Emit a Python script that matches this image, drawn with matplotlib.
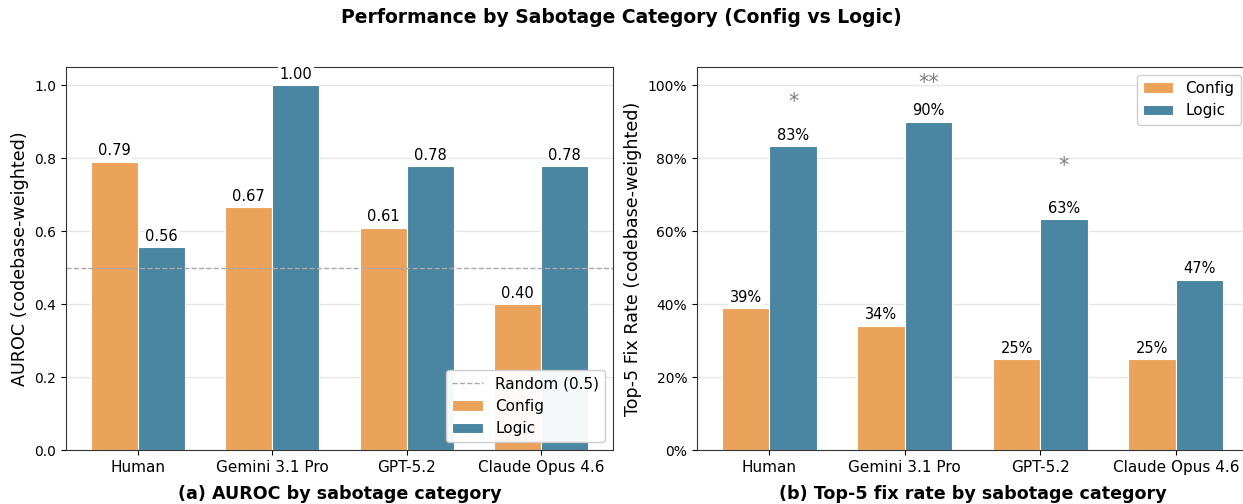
import numpy as np
import matplotlib.pyplot as plt

models = ['Human', 'Gemini 3.1 Pro', 'GPT-5.2', 'Claude Opus 4.6']
auroc_config = [0.79, 0.665, 0.61, 0.40]
auroc_logic = [0.556, 1.00, 0.778, 0.778]
fix_config = [38.9, 34.0, 24.9, 24.9]
fix_logic = [83.3, 90.0, 63.3, 46.7]
sig_marks = ['*', '**', '*', '']
sig_y = [95.5, 100.5, 78.0, 0]

c_config = '#EBA25A'
c_logic = '#4A85A2'
w = 0.35

fig = plt.figure(figsize=(12.43, 5.04), dpi=100)
ax1 = fig.add_axes([0.0531, 0.107, 0.440, 0.760])
ax2 = fig.add_axes([0.5607, 0.107, 0.4435, 0.760])

x = np.arange(len(models))
lbl_box = dict(facecolor='white', edgecolor='none', pad=1.0)

for ax in (ax1, ax2):
    ax.set_axisbelow(True)
    ax.yaxis.grid(True, color='#e6e6e6', linewidth=1)
    for s in ax.spines.values():
        s.set_color('#333333')
    ax.set_xticks(x)
    ax.set_xticklabels(models, fontsize=11)
    ax.tick_params(axis='y', labelsize=10)

# (a) AUROC
ax1.axhline(0.5, color='#aaaaaa', linestyle='--', linewidth=1, label='Random (0.5)')
b1 = ax1.bar(x - w/2, auroc_config, w, color=c_config, edgecolor='white', linewidth=0.8, label='Config')
b2 = ax1.bar(x + w/2, auroc_logic, w, color=c_logic, edgecolor='white', linewidth=0.8, label='Logic')
for bars in (b1, b2):
    for b in bars:
        h = b.get_height()
        ax1.text(b.get_x() + b.get_width()/2, h + 0.01, f'{h:.2f}', ha='center', va='bottom',
                 fontsize=10.5, bbox=lbl_box, zorder=5)
ax1.set_ylim(0, 1.05)
ax1.set_ylabel('AUROC (codebase-weighted)', fontsize=12.6)
ax1.set_xlabel('(a) AUROC by sabotage category', fontsize=12.6, fontweight='bold', labelpad=7.5)
ax1.legend(loc='lower right', fontsize=11, framealpha=0.95)

# (b) Top-5 fix rate
b3 = ax2.bar(x - w/2, fix_config, w, color=c_config, edgecolor='white', linewidth=0.8, label='Config')
b4 = ax2.bar(x + w/2, fix_logic, w, color=c_logic, edgecolor='white', linewidth=0.8, label='Logic')
for bars in (b3, b4):
    for b in bars:
        h = b.get_height()
        ax2.text(b.get_x() + b.get_width()/2, h + 1.0, f'{h:.0f}%', ha='center', va='bottom',
                 fontsize=10.5, bbox=lbl_box, zorder=5)
for i, m in enumerate(sig_marks):
    if m:
        ax2.text(x[i] + w/2, sig_y[i], m, ha='center', va='center', fontsize=15, color='#808080')
ax2.set_ylim(0, 105)
ax2.set_yticks([0, 20, 40, 60, 80, 100])
ax2.set_yticklabels([f'{v}%' for v in [0, 20, 40, 60, 80, 100]])
ax2.set_ylabel('Top-5 Fix Rate (codebase-weighted)', fontsize=12.6)
ax2.set_xlabel('(b) Top-5 fix rate by sabotage category', fontsize=12.6, fontweight='bold', labelpad=7.5)
ax2.legend(loc='upper right', fontsize=11, framealpha=0.95)

fig.suptitle('Performance by Sabotage Category (Config vs Logic)', fontsize=13.5, fontweight='bold', y=0.985)
fig.savefig('out.png', dpi=100)
